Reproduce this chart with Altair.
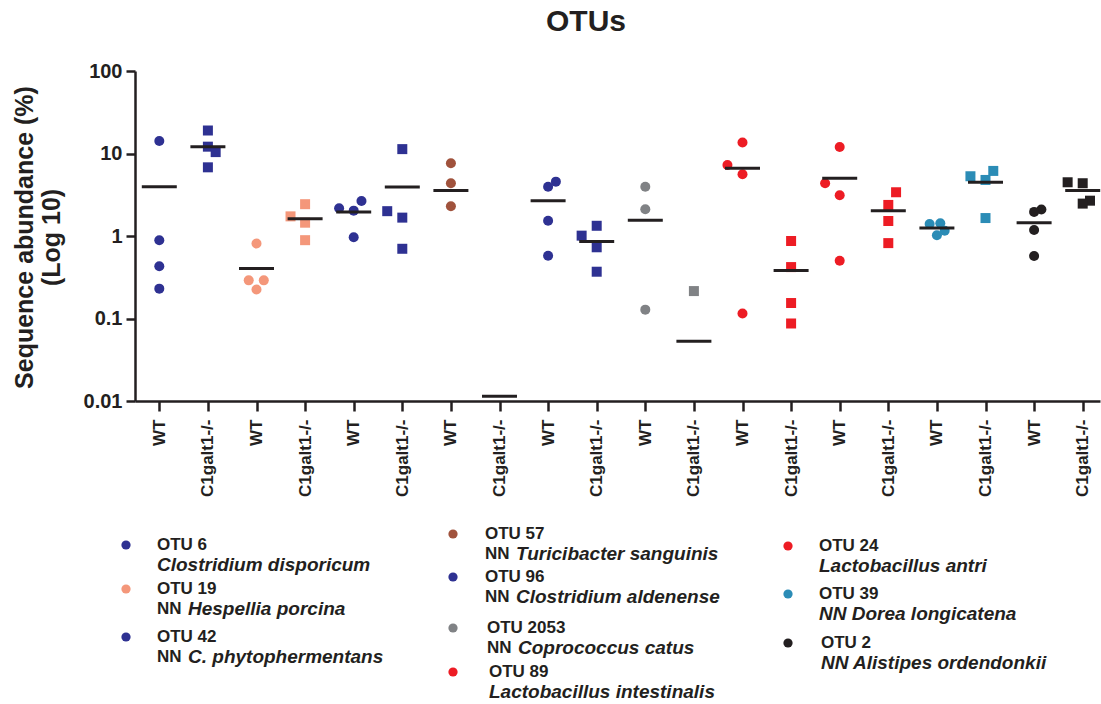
import altair as alt
import pandas as pd

FONT = "Liberation Sans"
INK = "#231F20"

# ---------------- data ----------------
otus = ["OTU 6", "OTU 19", "OTU 42", "OTU 57", "OTU 96",
        "OTU 2053", "OTU 89", "OTU 24", "OTU 39", "OTU 2"]
genotypes = ["WT", "C1galt1-/-"]
otu_colors = ["#2E3192", "#F4977A", "#2E3192", "#A0523C", "#2E3192",
              "#808285", "#ED1C24", "#ED1C24", "#2B8CB6", "#231F20"]

# one list per column (OTU x genotype), sequence abundance in %
col_values = [
    [14.2, 0.89, 0.43, 0.23],      # OTU 6 WT
    [19.0, 12.1, 10.4, 6.8],       # OTU 6 C1galt1-/-
    [0.81, 0.29, 0.29, 0.225],     # OTU 19 WT
    [2.43, 1.73, 1.45, 0.89],      # OTU 19 C1galt1-/-
    [2.17, 2.66, 2.03, 0.965],     # OTU 42 WT
    [11.3, 2.0, 1.67, 0.70],       # OTU 42 C1galt1-/-
    [7.6, 4.36, 2.29],             # OTU 57 WT
    [],                            # OTU 57 C1galt1-/-
    [4.56, 3.96, 1.53, 0.576],     # OTU 96 WT
    [1.33, 1.01, 0.73, 0.369],     # OTU 96 C1galt1-/-
    [3.96, 2.11, 0.128],           # OTU 2053 WT
    [0.215],                       # OTU 2053 C1galt1-/-
    [13.6, 7.27, 5.61, 0.115],     # OTU 89 WT
    [0.87, 0.42, 0.154, 0.087],    # OTU 89 C1galt1-/-
    [12.0, 4.36, 3.12, 0.502],     # OTU 24 WT
    [3.39, 2.38, 1.52, 0.82],      # OTU 24 C1galt1-/-
    [1.40, 1.43, 1.16, 1.02],      # OTU 39 WT
    [5.3, 6.15, 4.78, 1.65],       # OTU 39 C1galt1-/-
    [2.09, 1.96, 1.18, 0.572],     # OTU 2 WT
    [4.48, 4.36, 2.68, 2.47],      # OTU 2 C1galt1-/-
]
# horizontal scatter of overlapping points (fraction of a column)
col_jitter = [
    [0, 0, 0, 0],
    [0, 0, 0.16, 0],
    [0, -0.16, 0.15, 0],
    [0, -0.30, 0, 0],
    [-0.30, 0.16, 0, 0],
    [0, -0.31, 0, 0],
    [0, 0, 0],
    [],
    [0.16, 0, 0, 0],
    [0, -0.31, 0, 0],
    [0, 0, 0],
    [0],
    [0, -0.31, 0, 0],
    [0, 0, 0, 0],
    [0, -0.30, 0, 0],
    [0.16, 0, 0, 0],
    [-0.15, 0.07, 0.16, 0],
    [-0.31, 0.16, 0, 0],
    [0.15, 0, 0, 0],
    [-0.31, 0, 0.15, 0],
]
# mean bars drawn per column
col_means = [3.96, 12.1, 0.405, 1.62, 1.95, 3.93, 3.55, 0.0114, 2.68, 0.86,
             1.55, 0.053, 6.63, 0.383, 5.01, 2.03, 1.25, 4.48, 1.45, 3.55]

y_ticks = [0.01, 0.1, 1, 10, 100]
x_tick_labels = [genotypes[i % 2] for i in range(len(col_values))]
chart_title = "OTUs"

# legend texts: (OTU, upright prefix, italic name)
legend_entries = [
    ("OTU 6", "", "Clostridium disporicum"),
    ("OTU 19", "NN", "Hespellia porcina"),
    ("OTU 42", "NN", "C. phytophermentans"),
    ("OTU 57", "NN", "Turicibacter sanguinis"),
    ("OTU 96", "NN", "Clostridium aldenense"),
    ("OTU 2053", "NN", "Coprococcus catus"),
    ("OTU 89", "", "Lactobacillus intestinalis"),
    ("OTU 24", "", "Lactobacillus antri"),
    ("OTU 39", "", "NN Dorea longicatena"),
    ("OTU 2", "", "NN Alistipes ordendonkii"),
]

# ---------------- layout (pixels, absolute page coordinates) ----------------
LEFT, TOP = 135, 71
W, H = 965, 330
# legend: dot x, text x, first-line centre y
legend_layout = [
    (126, 157, 545), (126, 157, 589), (126, 157, 637),
    (453, 485, 534), (453, 485, 577), (453, 487, 628), (453, 489, 672),
    (788, 819, 546), (788, 819, 594), (788, 821, 643),
]
LINE2 = 20
NN_SHIFT = 31

# ---------------- tables ----------------
rows = []
for i, vals in enumerate(col_values):
    for v, j in zip(vals, col_jitter[i]):
        rows.append({"col": i, "pos": i + j, "value": v,
                     "otu": otus[i // 2], "genotype": genotypes[i % 2]})
df = pd.DataFrame(rows)
dm = pd.DataFrame({"col": list(range(len(col_means))), "mean": col_means})

x_scale = alt.Scale(domain=[-0.5, -0.5 + W / 48.6], nice=False, zero=False)
y_scale = alt.Scale(type="log", domain=[0.01, 100], nice=False)

label_array = "[" + ",".join("'" + s + "'" for s in x_tick_labels) + "]"
x_axis = alt.Axis(values=list(range(len(col_values))), title=None, grid=False,
                  labelExpr=label_array + "[datum.value]",
                  labelAngle=270, labelAlign="right", labelBaseline="middle",
                  labelPadding=8, labelFontSize=17, labelFontWeight="bold",
                  labelFont=FONT, labelColor=INK, tickSize=10, tickWidth=2.5,
                  tickColor=INK, domainWidth=2.5, domainColor=INK,
                  labelOverlap=False, labelFlush=False, labelBound=False)
y_axis = alt.Axis(values=y_ticks, format="~g", grid=False,
                  title=["Sequence abundance (%)", "(Log 10)"],
                  titleFontSize=25, titleFontWeight="bold", titleFont=FONT,
                  titleColor=INK, titleAngle=270, titleAlign="center",
                  titleBaseline="middle", titleLineHeight=27,
                  titleX=-111, titleY=166,
                  labelFontSize=20, labelFontWeight="bold", labelFont=FONT,
                  labelColor=INK, labelPadding=4, tickSize=9, tickWidth=2.5,
                  tickColor=INK, domainWidth=2.5, domainColor=INK,
                  labelOverlap=False, labelFlush=False)

points = alt.Chart(df).mark_point(filled=True, opacity=1, size=100).encode(
    x=alt.X("pos:Q", scale=x_scale, axis=x_axis),
    y=alt.Y("value:Q", scale=y_scale, axis=y_axis),
    color=alt.Color("otu:N", scale=alt.Scale(domain=otus, range=otu_colors), legend=None),
    shape=alt.Shape("genotype:N", scale=alt.Scale(domain=genotypes, range=["circle", "square"]),
                    legend=None),
)

means = alt.Chart(dm).transform_calculate(
    x1="datum.col - 0.36", x2="datum.col + 0.36"
).mark_rule(strokeWidth=3, color=INK).encode(
    x=alt.X("x1:Q", scale=x_scale, axis=x_axis),
    x2="x2:Q",
    y=alt.Y("mean:Q", scale=y_scale, axis=y_axis),
)

one = pd.DataFrame({"k": [0]})
title_mark = alt.Chart(one).mark_text(text=chart_title, font=FONT, fontSize=30,
                                      fontWeight="bold", align="center",
                                      baseline="middle", color=INK).encode(
    x=alt.value(586 - LEFT), y=alt.value(22 - TOP))

layers = [points, means, title_mark]

# ---------------- custom legend ----------------
for (otu, prefix, name), (dx, tx, ty) in zip(legend_entries, legend_layout):
    col = otu_colors[otus.index(otu)]
    layers.append(alt.Chart(one).mark_point(filled=True, opacity=1, size=85, shape="circle",
                                            color=col).encode(
        x=alt.value(dx - LEFT), y=alt.value(ty - TOP)))
    layers.append(alt.Chart(one).mark_text(text=otu, font=FONT, fontSize=17, fontWeight="bold",
                                           align="left", baseline="middle", color=INK).encode(
        x=alt.value(tx - LEFT), y=alt.value(ty - TOP)))
    sx = tx
    if prefix:
        layers.append(alt.Chart(one).mark_text(text=prefix, font=FONT, fontSize=17,
                                               fontWeight="bold", align="left",
                                               baseline="middle", color=INK).encode(
            x=alt.value(tx - LEFT), y=alt.value(ty + LINE2 - TOP)))
        sx = tx + NN_SHIFT
    layers.append(alt.Chart(one).mark_text(text=name, font=FONT, fontSize=19, fontWeight="bold",
                                           fontStyle="italic", align="left", baseline="middle",
                                           color=INK).encode(
        x=alt.value(sx - LEFT), y=alt.value(ty + LINE2 - TOP)))

chart = alt.layer(*layers).properties(
    width=W, height=H,
    autosize=alt.AutoSizeParams(type="none"),
    padding={"left": LEFT, "top": TOP, "right": 1, "bottom": 704 - TOP - H},
    background="white",
).configure_view(stroke=None)

chart.save("out.html", embed_options={"renderer": "svg", "actions": False})
